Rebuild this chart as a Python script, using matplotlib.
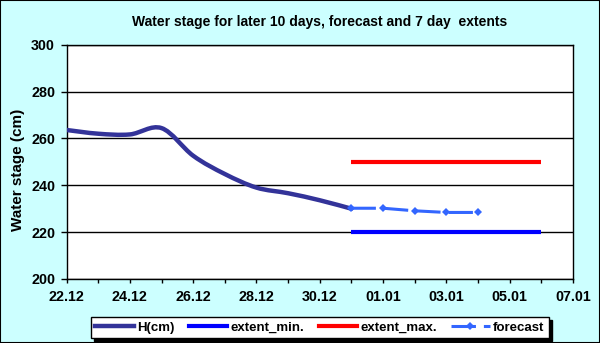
import matplotlib
matplotlib.use("Agg")
import matplotlib.pyplot as plt
import matplotlib.dates as mdates
from matplotlib.path import Path
from matplotlib.patches import PathPatch, Rectangle
from matplotlib.lines import Line2D
from datetime import datetime

# ---- data ----
h_dates = ["2010-12-22", "2010-12-23", "2010-12-24", "2010-12-25", "2010-12-26",
           "2010-12-27", "2010-12-28", "2010-12-29", "2010-12-30", "2010-12-31"]
h_values = [263.6, 262.0, 261.7, 264.4, 252.6, 244.8, 239.0, 236.6, 233.6, 230.0]

fc_dates = ["2010-12-31", "2011-01-01", "2011-01-02", "2011-01-03", "2011-01-04"]
fc_values = [230.2, 230.2, 229.1, 228.4, 228.4]

ext_dates = ["2010-12-31", "2011-01-06"]
ext_min = [220, 220]
ext_max = [250, 250]

xtick_labels = ["22.12", "24.12", "26.12", "28.12", "30.12", "01.01", "03.01", "05.01", "07.01"]
xtick_years = [2010, 2010, 2010, 2010, 2010, 2011, 2011, 2011, 2011]
yticks = [200, 220, 240, 260, 280, 300]

title = "Water stage for later 10 days, forecast and 7 day  extents"
ylabel = "Water stage (cm)"

# ---- styling ----
BG = "#CCFFFF"
H_COLOR = "#333399"
MIN_COLOR = "#0000FF"
MAX_COLOR = "#FF0000"
FC_COLOR = "#3366FF"
FONT = "Liberation Sans"

plt.rcParams["font.family"] = [FONT, "DejaVu Sans"]

fig = plt.figure(figsize=(6.0, 3.43), dpi=100, facecolor=BG)
ax = fig.add_axes([0.111, 0.1866, 0.844, 0.6831])
ax.set_facecolor("white")

def to_num(strs):
    return [mdates.date2num(datetime.strptime(s, "%Y-%m-%d")) for s in strs]

hx = to_num(h_dates)
fx = to_num(fc_dates)
ex = to_num(ext_dates)

# smoothed H curve (Catmull-Rom bezier, like spreadsheet "smoothed line")
verts = [(hx[0], h_values[0])]
codes = [Path.MOVETO]
n = len(hx)
for i in range(n - 1):
    p0 = (hx[max(i - 1, 0)], h_values[max(i - 1, 0)])
    p1 = (hx[i], h_values[i])
    p2 = (hx[i + 1], h_values[i + 1])
    p3 = (hx[min(i + 2, n - 1)], h_values[min(i + 2, n - 1)])
    c1 = (p1[0] + (p2[0] - p0[0]) / 6.0, p1[1] + (p2[1] - p0[1]) / 6.0)
    c2 = (p2[0] - (p3[0] - p1[0]) / 6.0, p2[1] - (p3[1] - p1[1]) / 6.0)
    verts += [c1, c2, p2]
    codes += [Path.CURVE4] * 3
ax.add_patch(PathPatch(Path(verts, codes), fill=False, edgecolor=H_COLOR,
                       linewidth=3.2, capstyle="round", joinstyle="round", zorder=4))

ax.plot(ex, ext_min, color=MIN_COLOR, linewidth=3.0, solid_capstyle="butt", zorder=3)
ax.plot(ex, ext_max, color=MAX_COLOR, linewidth=3.0, solid_capstyle="butt", zorder=3)
ax.plot(fx, fc_values, color=FC_COLOR, linewidth=2.2, dashes=(8, 2.6),
        marker="D", markersize=4.2, markeredgewidth=0, zorder=5)

# axes
xt = [mdates.date2num(datetime(y, int(l[3:5]), int(l[0:2]))) for l, y in zip(xtick_labels, xtick_years)]
ax.set_xlim(xt[0], xt[-1])
ax.set_xticks(xt)
ax.set_xticklabels(xtick_labels)
ax.set_xticks([xt[0] + d for d in range(int(xt[-1] - xt[0]) + 1)], minor=True)
ax.set_ylim(yticks[0], yticks[-1])
ax.set_yticks(yticks)
ax.grid(axis="y", color="black", linewidth=1.0)
ax.set_axisbelow(True)
for s in ax.spines.values():
    s.set_color("black")
    s.set_linewidth(1.0)

ax.tick_params(axis="y", direction="out", length=4.3, width=1, pad=4.0,
               labelsize=10.3, colors="black")
ax.tick_params(axis="x", which="both", direction="out", length=2.8, width=1, pad=5,
               labelsize=10.3, colors="black")
for lab in ax.get_xticklabels() + ax.get_yticklabels():
    lab.set_fontweight("bold")

fig.text(0.533, 0.935, title, ha="center", va="center", fontsize=10, fontweight="bold")
fig.text(0.030, 0.505, ylabel, ha="center", va="center", rotation=90,
         fontsize=11, fontweight="bold")

handles = [
    Line2D([], [], color=H_COLOR, linewidth=3.2),
    Line2D([], [], color=MIN_COLOR, linewidth=3.0),
    Line2D([], [], color=MAX_COLOR, linewidth=3.0),
    Line2D([], [], color=FC_COLOR, linewidth=2.2, dashes=(8, 2.6), marker="D",
           markersize=4.2, markeredgewidth=0),
]
labels = ["H(cm)", "extent_min.", "extent_max.", "forecast"]
leg = fig.legend(handles, labels, loc="center", bbox_to_anchor=(0.533, 0.045),
                 ncol=4, fontsize=9.5, frameon=True, fancybox=False,
                 shadow={"color": "black", "alpha": 1.0}, handlelength=2.9,
                 handletextpad=0.25, columnspacing=1.1, borderpad=0.35,
                 prop={"weight": "bold", "size": 9.5})
leg.get_frame().set_edgecolor("black")
leg.get_frame().set_linewidth(1.0)

fig.patches.append(Rectangle((0, 0), 1, 1, transform=fig.transFigure, fill=False,
                             edgecolor="black", linewidth=1.5, zorder=10))

fig.savefig("out.png", dpi=100, facecolor=BG)
